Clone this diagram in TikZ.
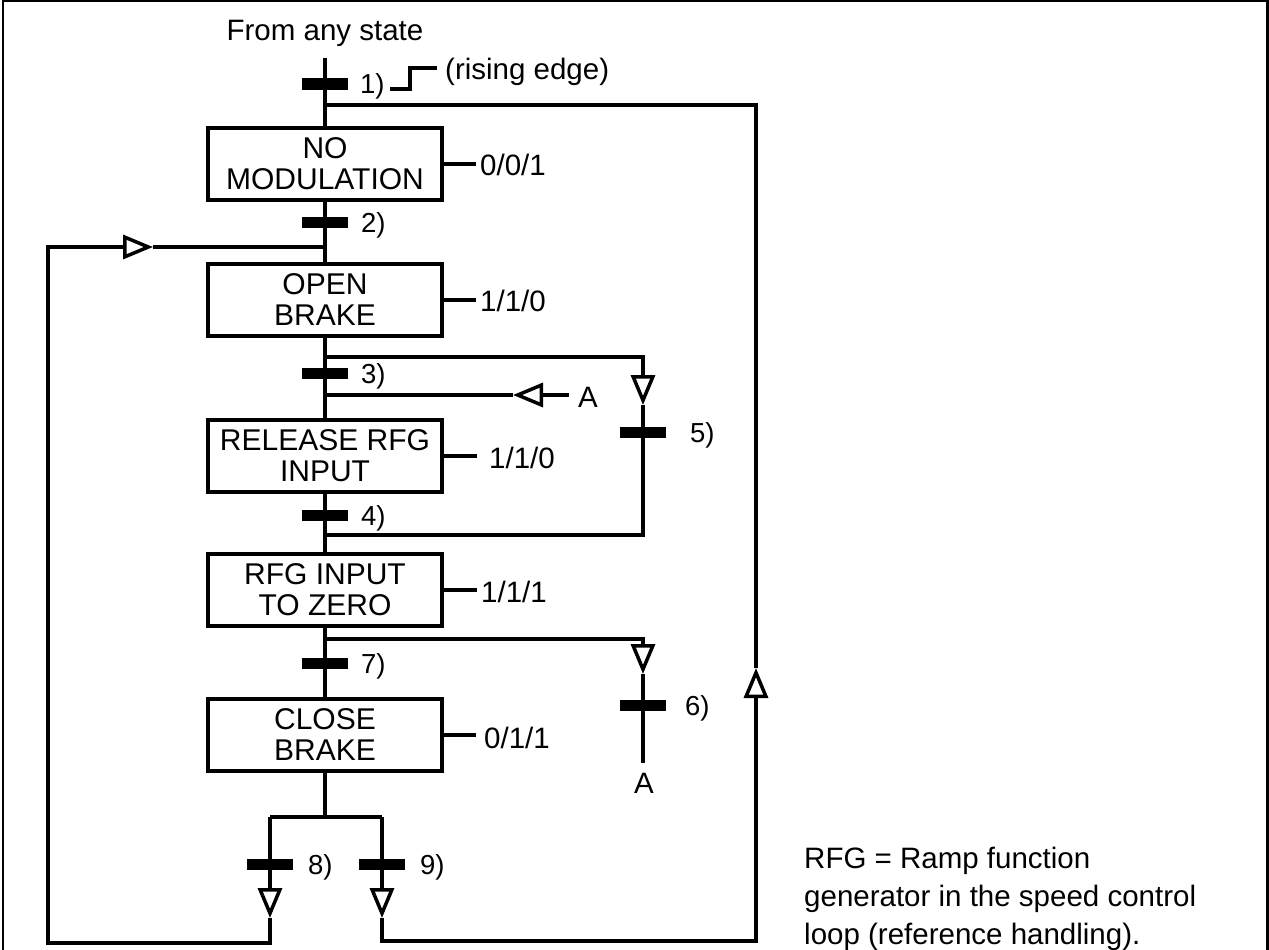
\documentclass[tikz,border=0pt]{standalone}
\usepackage{fontspec}
\setmainfont{Liberation Sans}
\usetikzlibrary{arrows.meta}
\begin{document}
\begin{tikzpicture}[x=1pt,y=-1pt,
  ln/.style={line width=4pt},
  stub/.style={line width=3.5pt},
  state/.style={draw,line width=4pt,minimum width=234pt,minimum height=72pt,align=center,inner sep=0pt,font=\fontsize{30}{31}\selectfont},
  bar/.style={fill=black,minimum width=46pt,minimum height=11pt,inner sep=0pt,outer sep=0pt},
  lbl/.style={anchor=base west,inner sep=0pt,font=\fontsize{27.5}{29}\selectfont},
  txt/.style={anchor=base west,inner sep=0pt,font=\fontsize{29.5}{31}\selectfont},
  tri/.style={-{Triangle[length=30pt,width=24pt,fill=white,line width=3.5pt]}},
  frame/.style={line width=2.5pt}
]
\useasboundingbox (0,0) rectangle (1269,950);
% frame
\coordinate (f1) at (3,950); \coordinate (f2) at (3,1);
\coordinate (f3) at (1267.5,1); \coordinate (f4) at (1267.5,950);
\draw[frame] (f1) -- (f2) -- (f3) -- (f4);

% title
\node[txt,anchor=base] (from) at (325,41) {From any state};

% states
\node[state] (s1) at (325,164) {NO\\MODULATION};
\node[state] (s2) at (325,300) {OPEN\\BRAKE};
\node[state] (s3) at (325,456) {RELEASE RFG\\INPUT};
\node[state] (s4) at (325,590) {RFG INPUT\\TO ZERO};
\node[state] (s5) at (325,735) {CLOSE\\BRAKE};

% outputs
\node[txt] (o1) at (480,175) {0/0/1};
\node[txt] (o2) at (480,311) {1/1/0};
\node[txt] (o3) at (489,468) {1/1/0};
\node[txt] (o4) at (481,602) {1/1/1};
\node[txt] (o5) at (484,748) {0/1/1};
\draw[stub] (s1.east) -- (476,164);
\draw[stub] (s2.east) -- (476,300);
\draw[stub] (s3.east) -- (477,456);
\draw[stub] (s4.east) -- (477,590);
\draw[stub] (s5.east) -- (476,735);

% top entry
\coordinate (top) at (325,58);
\coordinate (j1) at (325,105);
\node[bar] (b1) at (325,84) {};
\node[lbl] (l1) at (360,93) {1)};
\coordinate (e1) at (390,89); \coordinate (e2) at (410,89);
\coordinate (e3) at (410,68); \coordinate (e4) at (437,68);
\draw[line width=3.5pt] (e1) -- (e2) -- (e3) -- (e4);
\node[txt] (rise) at (445,79) {(rising edge)};
\draw[ln] (top) -- (s1.north);

% main line transitions
\node[bar] (b2) at (325,222) {};
\node[lbl] (l2) at (361,232) {2)};
\coordinate (j2) at (325,247);
\draw[ln] (s1.south) -- (s2.north);

\coordinate (j3) at (325,357);
\node[bar] (b3) at (325,373) {};
\node[lbl] (l3) at (361,383) {3)};
\coordinate (jA) at (325,395);
\draw[ln] (s2.south) -- (s3.north);

\node[bar] (b4) at (325,515) {};
\node[lbl] (l4) at (361,525) {4)};
\coordinate (j4) at (325,535);
\draw[ln] (s3.south) -- (s4.north);

\coordinate (j6) at (325,639);
\node[bar] (b7) at (325,663) {};
\node[lbl] (l7) at (361,673) {7)};
\draw[ln] (s4.south) -- (s5.north);

% branch 5
\coordinate (c5) at (643,357);
\coordinate (t5) at (643,405);
\node[bar] (b5) at (643,432) {};
\node[lbl] (l5) at (690,442) {5)};
\coordinate (d5) at (643,535);
\draw[ln,tri] (j3) -- (c5) -- (t5);
\draw[ln] (t5) -- (d5) -- (j4);

% A input
\node[txt] (A1) at (578,407) {A};
\coordinate (tA) at (513,395);
\coordinate (sA) at (569,395);
\draw[ln,tri] (sA) -- (tA);
\draw[ln] (tA) -- (jA);

% branch 6
\coordinate (c6) at (643,639);
\coordinate (t6) at (643,674);
\node[bar] (b6) at (643,705) {};
\node[lbl] (l6) at (685,715) {6)};
\coordinate (d6) at (643,763);
\node[txt,anchor=base] (A2) at (644,793) {A};
\draw[ln,tri] (j6) -- (c6) -- (t6);
\draw[ln] (t6) -- (d6);

% split at bottom
\coordinate (sp) at (325,817);
\coordinate (sp8) at (270,817);
\coordinate (sp9) at (382,817);
\draw[ln] (s5.south) -- (sp);
\draw[ln] (sp8) -- (sp9);
\node[bar] (b8) at (270,864) {};
\node[lbl] (l8) at (308,874) {8)};
\node[bar] (b9) at (382,864) {};
\node[lbl] (l9) at (420,874) {9)};
\coordinate (t8) at (270,918);
\coordinate (t9) at (382,918);
\draw[ln,tri] (sp8) -- (t8);
\draw[ln,tri] (sp9) -- (t9);

% loop back left
\coordinate (lb1) at (270,943);
\coordinate (lb2) at (48,943);
\coordinate (lb3) at (48,247);
\coordinate (tL) at (153,247);
\draw[ln,tri] (t8) -- (lb1) -- (lb2) -- (lb3) -- (tL);
\draw[ln] (tL) -- (j2);

% loop back right
\coordinate (rb1) at (382,941);
\coordinate (rb2) at (756,941);
\coordinate (rTip) at (756,668);
\coordinate (rTop) at (756,105);
\draw[ln,tri] (t9) -- (rb1) -- (rb2) -- (rTip);
\draw[ln] (rTip) -- (rTop) -- (j1);

% note
\node[txt] (n1) at (804,868) {RFG = Ramp function};
\node[txt] (n2) at (804,906) {generator in the speed control};
\node[txt] (n3) at (804,944) {loop (reference handling).};
\end{tikzpicture}
\end{document}
